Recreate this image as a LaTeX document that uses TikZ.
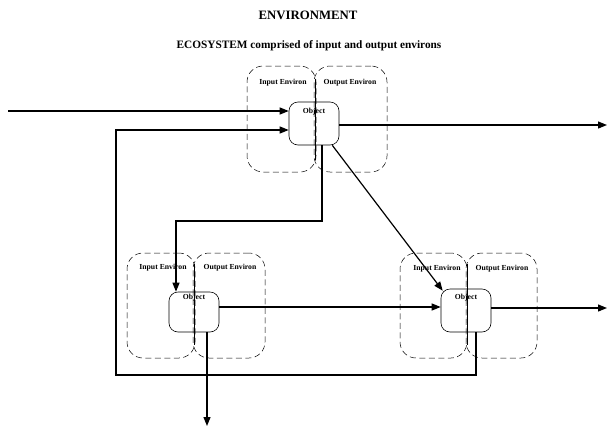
\documentclass[tikz,border=0pt]{standalone}
\usepackage{fontspec}
\setmainfont{Liberation Serif}
\usetikzlibrary{arrows.meta,calc}
\begin{document}
\begin{tikzpicture}[x=1pt,y=-1pt,
  envbox/.style={draw, dash pattern=on 6pt off 3.5pt, line width=0.5pt, rounded corners=16pt, inner sep=0pt},
  objbox/.style={draw, line width=0.6pt, rounded corners=9pt, inner sep=0pt, minimum width=50pt},
  envlabel/.style={font=\bfseries\fontsize{7.7}{9}\selectfont, inner sep=0pt},
  objlabel/.style={font=\bfseries\fontsize{7.7}{9}\selectfont, inner sep=0pt},
  conn/.style={line width=1.2pt, -{Triangle[length=9pt,width=7pt]}},
  thinline/.style={line width=0.5pt}]
\useasboundingbox (0,0) rectangle (608,429);

% titles
\node[font=\bfseries\fontsize{12.8}{15}\selectfont] (title) at (308,15) {ENVIRONMENT};
\node[font=\bfseries\fontsize{11.3}{14}\selectfont] (subtitle) at (309,46) {ECOSYSTEM comprised of input and output environs};

% top group
\node[envbox, minimum width=69pt, minimum height=106pt] (in1) at (281.5,119) {};
\node[envbox, minimum width=73pt, minimum height=106pt] (out1) at (350.5,119) {};
\node[envlabel] (in1l) at (283,83) {Input Environ};
\node[envlabel] (out1l) at (350,83) {Output Environ};
\node[objbox, minimum height=43pt] (o1) at (314,123.5) {};
\node[objlabel] (o1l) at (314,112) {Object};
\draw[thinline] (315,79) -- (315,160);

% bottom-left group
\node[envbox, minimum width=68pt, minimum height=105pt] (in2) at (161,305.5) {};
\node[envbox, minimum width=72pt, minimum height=105pt] (out2) at (229,305.5) {};
\node[envlabel] (in2l) at (163,268) {Input Environ};
\node[envlabel] (out2l) at (230,268) {Output Environ};
\node[objbox, minimum height=40pt] (o2) at (194,312) {};
\node[objlabel] (o2l) at (194,298) {Object};
\draw[thinline] (194,264) -- (194,345);

% bottom-right group
\node[envbox, minimum width=67pt, minimum height=105pt] (in3) at (433.5,305.5) {};
\node[envbox, minimum width=71pt, minimum height=105pt] (out3) at (501.5,305.5) {};
\node[envlabel] (in3l) at (437,269) {Input Environ};
\node[envlabel] (out3l) at (502,269) {Output Environ};
\node[objbox, minimum height=43pt] (o3) at (466,310.5) {};
\node[objlabel] (o3l) at (466,298) {Object};
\draw[thinline] (467,264) -- (467,345);

% free ends
\coordinate (srcL) at (8,111);
\coordinate (snk1) at (607,125);
\coordinate (snk3) at (607,308);
\coordinate (snk2) at (207,426);

% connectors
\draw[conn] (srcL) -- (srcL -| o1.west);
\draw[conn] (o1.east |- snk1) -- (snk1);
\draw[conn] (o3.south -| 476,0) -- (476,375) -- (116,375) -- (116,130) -- (o1.west |- 0,130);
\draw[conn] (o1.south -| 322,0) -- (322,221) -- (176,221) -- (o2.north -| 176,0);
\draw[conn] ($(o1.south east)+(-7,0)$) -- ($(o3.north west)+(2,2)$);
\draw[conn] (o2.east |- 0,307) -- (o3.west |- 0,307);
\draw[conn] (o3.east |- snk3) -- (snk3);
\draw[conn] (o2.south -| snk2) -- (snk2);
\end{tikzpicture}
\end{document}
